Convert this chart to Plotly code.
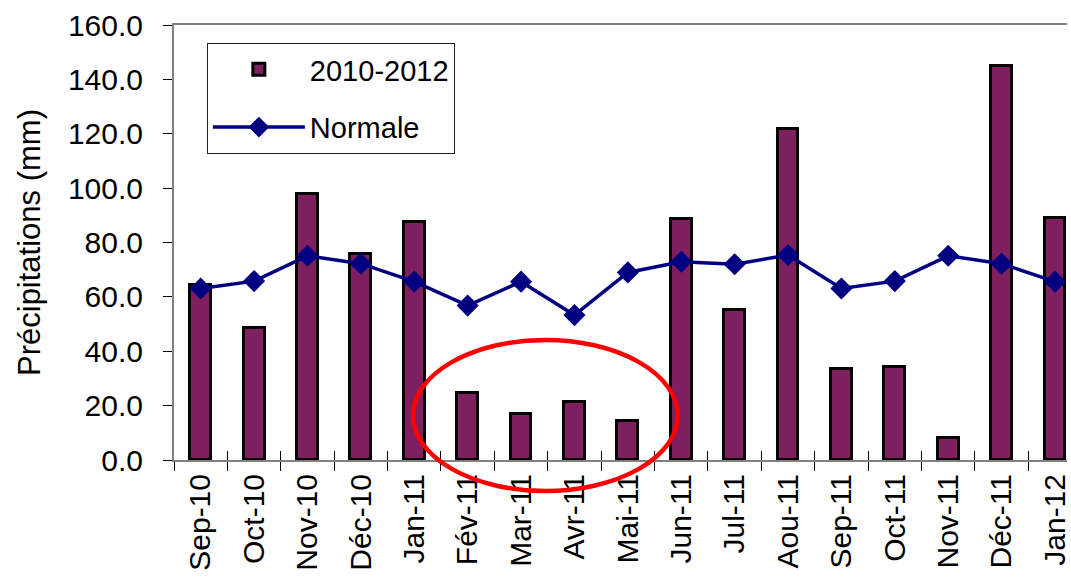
import plotly.graph_objects as go

# Monthly precipitation, Sep 2010 - Jan 2012, versus the climate normal
months = ["Sep-10", "Oct-10", "Nov-10", "Déc-10", "Jan-11", "Fév-11", "Mar-11",
          "Avr-11", "Mai-11", "Jun-11", "Jul-11", "Aou-11", "Sep-11", "Oct-11",
          "Nov-11", "Déc-11", "Jan-12"]
precip_2010_2012 = [64.5, 48.4, 98.0, 75.6, 87.5, 24.5, 17.1, 21.4, 14.3,
                    88.8, 55.0, 121.9, 33.3, 34.2, 8.2, 144.9, 89.0]
normale = [63.1, 65.8, 75.1, 72.2, 65.6, 56.8, 65.6, 53.3, 69.0,
           72.9, 72.0, 75.4, 63.1, 65.8, 75.1, 72.2, 65.6]
y_ticks = [0, 20, 40, 60, 80, 100, 120, 140, 160]

FONT = "Liberation Sans, Arial, sans-serif"
X_RANGE = [-0.5, 16.225]

fig = go.Figure()

fig.add_trace(go.Bar(
    x=months, y=precip_2010_2012, name="2010-2012",
    marker=dict(color="#7F1F5F", line=dict(color="black", width=3)),
    width=0.39, legendgroup="a",
))

# Normal line sits on an overlaid category axis that carries the inner half
# of the boundary tick marks.
fig.add_trace(go.Scatter(
    x=months, y=normale, name="Normale", xaxis="x2",
    mode="lines+markers",
    line=dict(color="#000080", width=3.5),
    marker=dict(symbol="diamond", size=17, color="#000080"),
    legendgroup="b",
))

fig.update_layout(
    width=1071, height=581,
    margin=dict(l=174, r=0, t=25, b=121),
    paper_bgcolor="white", plot_bgcolor="white",
    font=dict(family=FONT, size=30, color="black"),
    showlegend=True,
    legend=dict(
        x=0.0368, y=0.9586, xanchor="left", yanchor="top",
        bgcolor="white", bordercolor="#202020", borderwidth=1,
        font=dict(size=29), tracegroupgap=17, itemwidth=92,
        traceorder="grouped",
    ),
    xaxis=dict(
        type="category", categoryorder="array", categoryarray=months,
        range=X_RANGE, tickangle=-90,
        tickson="boundaries", ticks="outside", ticklen=9,
        tickcolor="black", tickwidth=1,
        showline=True, linecolor="#808080", linewidth=2, mirror=True,
        showgrid=False, zeroline=False,
        tickfont=dict(size=30),
    ),
    xaxis2=dict(
        type="category", categoryorder="array", categoryarray=months,
        overlaying="x", side="bottom", anchor="y",
        range=X_RANGE, tickson="boundaries", ticks="inside", ticklen=9,
        tickcolor="black", tickwidth=1,
        showticklabels=False, showline=False, showgrid=False, zeroline=False,
    ),
    yaxis=dict(
        range=[0, 160], tickvals=y_ticks, tickformat=".1f",
        ticks="outside", ticklen=9, tickcolor="black", tickwidth=1,
        showline=True, linecolor="#808080", linewidth=2,
        showgrid=False, zeroline=False,
        tickfont=dict(size=30), ticklabelstandoff=14,
        title=dict(text="Précipitations (mm)", font=dict(size=31), standoff=18),
    ),
    bargap=0.0,
)

# Red ellipse highlighting the dry spell (Feb - May 2011)
fig.add_shape(
    type="circle", xref="paper", yref="paper",
    x0=0.2676, x1=0.5641, y0=-0.0713, y1=0.2759,
    line=dict(color="#FF0000", width=4.5), layer="above",
)

fig.write_html("out.html")
